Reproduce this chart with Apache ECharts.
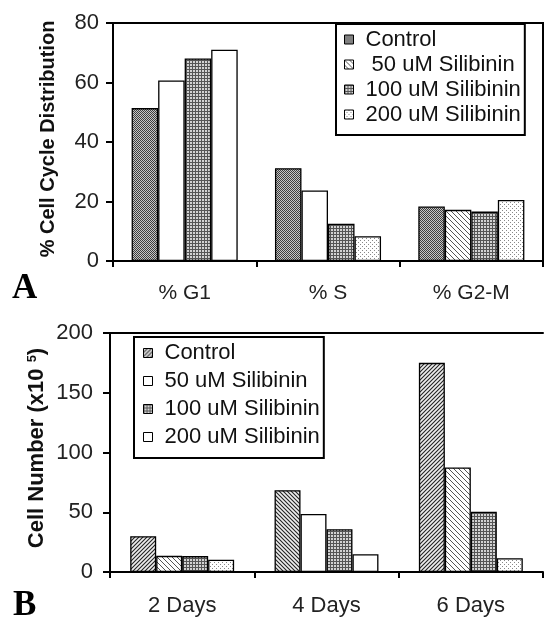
<!DOCTYPE html>
<html><head><meta charset="utf-8">
<script src="https://cdn.jsdelivr.net/npm/echarts@6/dist/echarts.min.js"></script>
<style>html,body{margin:0;padding:0;background:#fff}#c{width:545px;height:618px}</style>
</head><body><div id="c"></div>
<script>
// ---- Panel A data ----
const categoriesA = ['% G1', '% S', '% G2-M'];
const namesA = ['Control', ' 50 uM Silibinin', '100 uM Silibinin', '200 uM Silibinin'];
const controlA = [51.4, 31.2, 18.3];
const sil50A = [60.7, 23.7, 17.2];
const sil100A = [68.1, 12.5, 16.6];
const sil200A = [71.0, 8.3, 20.5];
const yTicksA = [0, 20, 40, 60, 80];

// ---- Panel B data ----
const categoriesB = ['2 Days', '4 Days', '6 Days'];
const namesB = ['Control', '50 uM Silibinin', '100 uM Silibinin', '200 uM Silibinin'];
const controlB = [30.0, 68.5, 175.0];
const sil50B = [13.5, 48.5, 87.5];
const sil100B = [13.3, 35.8, 50.5];
const sil200B = [10.2, 14.8, 11.5];
const yTicksB = [0, 50, 100, 150, 200];

// ---- fill patterns (style only) ----
function pat(s, draw) {
  const c = document.createElement('canvas'); c.width = s; c.height = s;
  const g = c.getContext('2d'); draw(g, s);
  return { image: c, repeat: 'repeat' };
}
function diag(s, bg, fg, slash, lw) {
  return pat(s, function (g) {
    g.fillStyle = bg; g.fillRect(0, 0, s, s);
    g.strokeStyle = fg; g.lineWidth = lw; g.beginPath();
    [-s, 0, s].forEach(function (o) {
      if (slash) { g.moveTo(o - 1, s + 1); g.lineTo(o + s + 1, -1); }
      else { g.moveTo(o - 1, -1); g.lineTo(o + s + 1, s + 1); }
    });
    g.stroke();
  });
}
const P = {
  white: '#ffffff',
  cross: pat(4, function (g, s) {
    g.fillStyle = '#c4c4c4'; g.fillRect(0, 0, s, s);
    g.fillStyle = '#3c3c3c';
    for (let y = 0; y < s; y++) for (let x = 0; x < s; x++) if ((x + y) % 2 === 0) g.fillRect(x, y, 1, 1);
  }),
  grid: pat(3, function (g, s) {
    g.fillStyle = '#d2d2d2'; g.fillRect(0, 0, s, s);
    g.fillStyle = '#555'; g.fillRect(0, 0, 1, s); g.fillRect(0, 0, s, 1);
  }),
  dots: pat(4, function (g, s) {
    g.fillStyle = '#fff'; g.fillRect(0, 0, s, s);
    g.fillStyle = '#888'; g.fillRect(0, 0, 1, 1); g.fillRect(2, 2, 1, 1);
  }),
  back: diag(5, '#fff', '#555', false, 1),
  slash: diag(4, '#eeeeee', '#222', true, 1.1),
  backDense: diag(4, '#eeeeee', '#222', false, 1.1)
};
const stylesA = [
  ['cross', 'cross', 'cross'],
  ['white', 'white', 'back'],
  ['grid', 'grid', 'grid'],
  ['white', 'dots', 'dots']
];
const stylesB = [
  ['slash', 'backDense', 'slash'],
  ['back', 'white', 'back'],
  ['grid', 'grid', 'grid'],
  ['dots', 'white', 'dots']
];
const legendStyleA = ['cross', 'back', 'grid', 'dots'];
const legendStyleB = ['slash', 'white', 'grid', 'white'];

const FONT = '"Liberation Sans", Arial, sans-serif';

function makeSeries(names, valueSets, styles, idx, gap) {
  return names.map(function (n, s) {
    return {
      type: 'bar', name: n, xAxisIndex: idx, yAxisIndex: idx,
      barGap: '0%', barCategoryGap: gap,
      itemStyle: { borderColor: '#000', borderWidth: 1.3 },
      emphasis: { disabled: true },
      data: valueSets[s].map(function (v, i) {
        return { value: v, itemStyle: { color: P[styles[s][i]] } };
      })
    };
  });
}

const series = [].concat(
  makeSeries(namesA, [controlA, sil50A, sil100A, sil200A], stylesA, 0, '26%'),
  makeSeries(namesB, [controlB, sil50B, sil100B, sil200B], stylesB, 1, '28%')
);

function legendData(names, st) {
  return names.map(function (n, i) {
    return { name: n, icon: 'rect', itemStyle: { color: P[st[i]], borderColor: '#000', borderWidth: 1 } };
  });
}

const axisLineStyle = { show: true, lineStyle: { color: '#000', width: 2 } };

const option = {
  animation: false,
  textStyle: { fontFamily: FONT },
  grid: [
    { left: 113, right: 2, top: 23, height: 238, show: true, borderColor: '#000', borderWidth: 2, backgroundColor: 'transparent' },
    { left: 110, right: 2, top: 333, height: 239 }
  ],
  xAxis: [
    { type: 'category', gridIndex: 0, data: categoriesA, axisLine: axisLineStyle,
      axisTick: { show: true, length: 6, lineStyle: { color: '#000', width: 2 } },
      axisLabel: { fontSize: 21, color: '#222', margin: 22, fontFamily: FONT } },
    { type: 'category', gridIndex: 1, data: categoriesB, axisLine: axisLineStyle,
      axisTick: { show: true, length: 6, lineStyle: { color: '#000', width: 2 } },
      axisLabel: { fontSize: 22, color: '#222', margin: 23, fontFamily: FONT } },
    { type: 'category', gridIndex: 1, position: 'top', data: categoriesB, axisLine: axisLineStyle,
      axisTick: { show: false }, axisLabel: { show: false } }
  ],
  yAxis: [
    { type: 'value', gridIndex: 0, min: yTicksA[0], max: yTicksA[yTicksA.length - 1], interval: yTicksA[1] - yTicksA[0],
      axisLine: axisLineStyle, splitLine: { show: false },
      axisTick: { show: true, length: 7, lineStyle: { color: '#000', width: 2 } },
      axisLabel: { fontSize: 22, color: '#222', margin: 14, fontFamily: FONT } },
    { type: 'value', gridIndex: 1, min: yTicksB[0], max: yTicksB[yTicksB.length - 1], interval: yTicksB[1] - yTicksB[0],
      axisLine: axisLineStyle, splitLine: { show: false },
      axisTick: { show: true, length: 7, lineStyle: { color: '#000', width: 2 } },
      axisLabel: { fontSize: 22, color: '#222', margin: 17, fontFamily: FONT } }
  ],
  legend: [
    { orient: 'vertical', left: 336, top: 24, backgroundColor: '#fff', borderColor: '#000', borderWidth: 2,
      padding: [3, 4, 8, 8], itemWidth: 9, itemHeight: 9, itemGap: 0, selectedMode: false,
      textStyle: { fontSize: 22, lineHeight: 25, color: '#111', fontFamily: FONT, padding: [0, 0, 0, 7] },
      data: legendData(namesA, legendStyleA) },
    { orient: 'vertical', left: 134, top: 337, backgroundColor: '#fff', borderColor: '#000', borderWidth: 2,
      padding: [2, 4, 7, 9], itemWidth: 9, itemHeight: 9, itemGap: 0, selectedMode: false,
      textStyle: { fontSize: 22, lineHeight: 28, color: '#111', fontFamily: FONT, padding: [0, 0, 0, 7] },
      data: legendData(namesB, legendStyleB) }
  ],
  graphic: [
    { type: 'text', x: 48, y: 139, rotation: Math.PI / 2,
      style: { text: '% Cell Cycle Distribution', x: 0, y: 0, align: 'center', verticalAlign: 'middle',
        font: 'bold 20px "Liberation Sans", Arial, sans-serif', fill: '#111' } },
    { type: 'text', x: 37, y: 448, rotation: Math.PI / 2,
      style: { text: 'Cell Number (x10 {s|5})', x: 0, y: 0, align: 'center', verticalAlign: 'middle',
        font: 'bold 22px "Liberation Sans", Arial, sans-serif', fill: '#111',
        rich: { s: { fontSize: 13, fontWeight: 'bold', verticalAlign: 'top', fontFamily: FONT, fill: '#111' } } } },
    { type: 'text', x: 12, y: 289,
      style: { text: 'A', align: 'left', verticalAlign: 'middle', font: 'bold 35px "Liberation Serif", "Times New Roman", serif', fill: '#000' } },
    { type: 'text', x: 13, y: 606,
      style: { text: 'B', align: 'left', verticalAlign: 'middle', font: 'bold 35px "Liberation Serif", "Times New Roman", serif', fill: '#000' } }
  ],
  series: series
};

const chart = echarts.init(document.getElementById('c'), null, { renderer: 'canvas' });
chart.setOption(option);
</script>
</body></html>
